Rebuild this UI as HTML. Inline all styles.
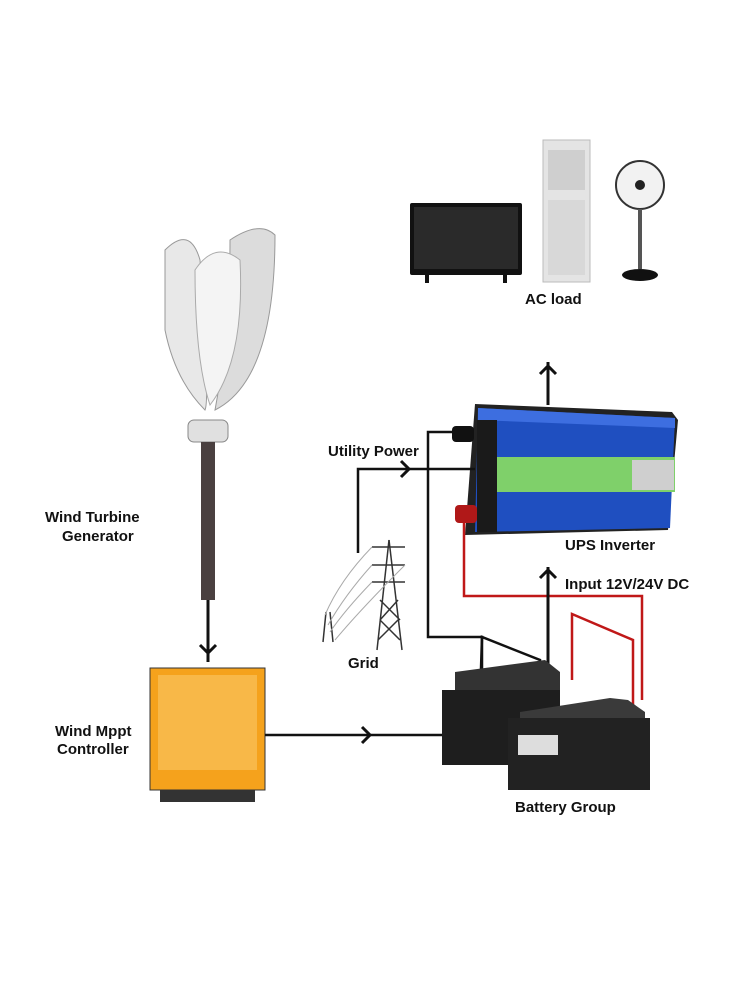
<!DOCTYPE html>
<html><head><meta charset="utf-8"><style>
html,body{margin:0;padding:0;background:#fff;}
svg{display:block}
text{font-family:"Liberation Sans",sans-serif;font-weight:bold;fill:#111;font-size:15px}
</style></head><body>
<svg width="750" height="1000" viewBox="0 0 750 1000" xmlns="http://www.w3.org/2000/svg">
<!-- TV -->
<rect x="410" y="203" width="112" height="72" fill="#111" rx="2"/>
<rect x="414" y="207" width="104" height="62" fill="#2a2a2a"/>
<rect x="425" y="275" width="4" height="8" fill="#111"/><rect x="503" y="275" width="4" height="8" fill="#111"/>
<!-- AC unit -->
<rect x="543" y="140" width="47" height="142" fill="#e4e4e4" stroke="#bbb"/>
<rect x="548" y="150" width="37" height="40" fill="#cfcfcf"/>
<rect x="548" y="200" width="37" height="75" fill="#d8d8d8"/>
<!-- Fan -->
<circle cx="640" cy="185" r="24" fill="#f2f2f2" stroke="#333" stroke-width="2"/>
<circle cx="640" cy="185" r="5" fill="#222"/>
<rect x="638" y="209" width="4" height="60" fill="#555"/>
<ellipse cx="640" cy="275" rx="18" ry="6" fill="#111"/>
<text x="525" y="304">AC load</text>
<!-- arrow up to AC load -->
<line x1="548" y1="405" x2="548" y2="362" stroke="#111" stroke-width="3"/>
<polyline points="540,374 548,366 556,374" fill="none" stroke="#111" stroke-width="3"/>
<!-- Inverter -->
<polygon points="475,404 672,412 678,420 668,530 465,535" fill="#222"/>
<polygon points="478,408 675,418 670,528 475,532" fill="#1f4fc0"/>
<polygon points="478,408 675,418 675,428 478,420" fill="#3d6ee0"/>
<rect x="477" y="420" width="20" height="112" fill="#1a1a1a"/>
<rect x="497" y="457" width="178" height="35" fill="#7fd06a"/>
<rect x="632" y="460" width="42" height="30" fill="#cfcfcf"/>
<rect x="452" y="426" width="22" height="16" rx="4" fill="#111"/>
<rect x="455" y="505" width="22" height="18" rx="4" fill="#b01818"/>
<text x="565" y="550">UPS Inverter</text>
<!-- Utility Power line -->
<polyline points="358,553 358,469 475,469" fill="none" stroke="#111" stroke-width="2.5"/>
<polyline points="401,461 409,469 401,477" fill="none" stroke="#111" stroke-width="3"/>
<text x="328" y="456">Utility Power</text>
<!-- inverter black line to battery -->
<polyline points="455,432 428,432 428,637 482,637 482,700" fill="none" stroke="#111" stroke-width="2.5"/>
<polyline points="480,700 482,637 540,660 540,715" fill="none" stroke="#111" stroke-width="2.5"/>
<!-- red line -->
<polyline points="464,523 464,596 642,596 642,700" fill="none" stroke="#c01818" stroke-width="2.5"/>
<polyline points="572,680 572,614 633,640 633,705" fill="none" stroke="#c01818" stroke-width="2.5"/>
<!-- DC input arrow -->
<line x1="548" y1="690" x2="548" y2="567" stroke="#111" stroke-width="3"/>
<polyline points="540,578 548,570 556,578" fill="none" stroke="#111" stroke-width="3"/>
<text x="565" y="589">Input 12V/24V DC</text>
<!-- Grid tower -->
<g stroke="#333" stroke-width="1.5" fill="none">
<line x1="389" y1="540" x2="377" y2="650"/><line x1="389" y1="540" x2="402" y2="650"/>
<line x1="372" y1="547" x2="405" y2="547"/><line x1="372" y1="565" x2="405" y2="565"/><line x1="372" y1="582" x2="405" y2="582"/>
<line x1="380" y1="600" x2="400" y2="620"/><line x1="398" y1="600" x2="380" y2="620"/>
<line x1="380" y1="620" x2="400" y2="640"/><line x1="398" y1="620" x2="378" y2="640"/>
<line x1="326" y1="612" x2="323" y2="642"/><line x1="330" y1="612" x2="333" y2="642"/>
</g>
<g stroke="#aaa" stroke-width="1" fill="none">
<path d="M372 547 Q340 580 325 615"/><path d="M372 565 Q345 595 328 625"/><path d="M372 582 Q345 610 330 632"/><path d="M405 565 Q360 610 335 640"/>
</g>
<text x="348" y="668">Grid</text>
<!-- Batteries -->
<polygon points="455,672 545,660 560,672 560,700 455,700" fill="#333"/>
<rect x="442" y="690" width="118" height="75" fill="#1e1e1e"/>
<polygon points="520,712 610,698 628,700 645,712 645,720 520,720" fill="#3a3a3a"/>
<rect x="508" y="718" width="142" height="72" fill="#222"/>
<rect x="518" y="735" width="40" height="20" fill="#ddd"/>
<text x="515" y="812">Battery Group</text>
<!-- Wind turbine -->
<path d="M165 250 Q190 225 200 260 Q210 400 205 410 Q175 380 165 330 Z" fill="#e8e8e8" stroke="#999"/>
<path d="M230 240 Q260 220 275 235 Q275 380 215 410 Q230 330 230 240 Z" fill="#dcdcdc" stroke="#999"/>
<path d="M195 270 Q215 240 240 260 Q245 360 210 405 Q195 360 195 270 Z" fill="#f4f4f4" stroke="#aaa"/>
<rect x="188" y="420" width="40" height="22" rx="6" fill="#e0e0e0" stroke="#888"/>
<rect x="201" y="442" width="14" height="158" fill="#4a4040"/>
<line x1="208" y1="600" x2="208" y2="662" stroke="#111" stroke-width="3"/>
<polyline points="200,645 208,653 216,645" fill="none" stroke="#111" stroke-width="3"/>
<text x="45" y="522">Wind Turbine</text>
<text x="62" y="541">Generator</text>
<!-- Controller -->
<rect x="150" y="668" width="115" height="122" fill="#f5a21c" stroke="#333"/>
<rect x="158" y="675" width="99" height="95" fill="#f8b848"/>
<rect x="160" y="790" width="95" height="12" fill="#333"/>
<text x="55" y="736">Wind Mppt</text>
<text x="57" y="754">Controller</text>
<line x1="265" y1="735" x2="442" y2="735" stroke="#111" stroke-width="2.5"/>
<polyline points="362,727 370,735 362,743" fill="none" stroke="#111" stroke-width="3"/>
</svg>
</body></html>
